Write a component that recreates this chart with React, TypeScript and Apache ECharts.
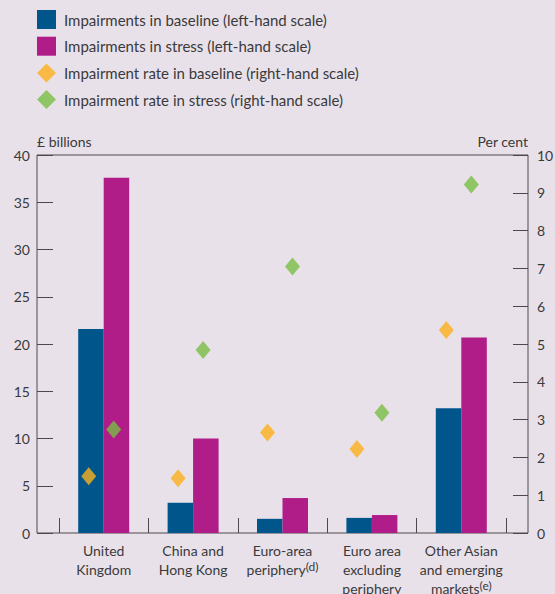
import React, { useEffect, useRef } from "react";
import * as echarts from "echarts";

const categories = [
  "United\nKingdom",
  "China and\nHong Kong",
  "Euro-area\nperiphery{sup|(d)}",
  "Euro area\nexcluding\nperiphery",
  "Other Asian\nand emerging\nmarkets{sup|(e)}",
];
const impairmentsBaseline = [21.6, 3.2, 1.5, 1.6, 13.2];
const impairmentsStress = [37.6, 10.0, 3.7, 1.9, 20.7];
const rateBaseline = [1.5, 1.45, 2.66, 2.22, 5.37];
const rateStress = [2.74, 4.84, 7.05, 3.18, 9.22];

const seriesNames = [
  "Impairments in baseline (left-hand scale)",
  "Impairments in stress (left-hand scale)",
  "Impairment rate in baseline (right-hand scale)",
  "Impairment rate in stress (right-hand scale)",
];

const FONT = "Lato";
const TEXT = "#3a3a3a";
const AXIS = "#4a4a4a";

export default function App() {
  const ref = useRef<HTMLDivElement>(null);
  useEffect(() => {
    if (!ref.current) return;
    const chart = echarts.init(ref.current, null, { renderer: "svg" });
    chart.setOption({
      animation: false,
      backgroundColor: "#E9E1EA",
      textStyle: { fontFamily: FONT, color: TEXT },
      legend: {
        orient: "vertical",
        left: 37,
        top: 10,
        padding: 0,
        itemWidth: 19,
        itemHeight: 19,
        itemGap: 7.7,
        textStyle: { fontFamily: FONT, fontSize: 15, color: TEXT, padding: [0, 0, 0, 3] },
        data: [
          { name: seriesNames[0], icon: "rect" },
          { name: seriesNames[1], icon: "rect" },
          { name: seriesNames[2], icon: "diamond" },
          { name: seriesNames[3], icon: "diamond" },
        ],
      },
      grid: [
        {
          left: 37,
          right: 27,
          top: 155,
          bottom: 61,
          show: true,
          borderColor: AXIS,
          borderWidth: 1,
          backgroundColor: "transparent",
          containLabel: false,
          outerBoundsMode: "none",
        },
        { left: 59, right: 49, top: 155, bottom: 61, containLabel: false, outerBoundsMode: "none" },
      ],
      xAxis: [
        { gridIndex: 0, type: "value", min: 0, max: 1, show: false },
        {
          gridIndex: 1,
          type: "category",
          data: categories,
          axisLine: { show: false },
          axisTick: { show: true, inside: true, length: 15, lineStyle: { color: AXIS } },
          axisLabel: {
            interval: 0,
            margin: 8,
            fontFamily: FONT,
            fontSize: 14,
            lineHeight: 19,
            color: TEXT,
            rich: {
              sup: { fontSize: 12, fontFamily: FONT, color: TEXT, verticalAlign: "top", padding: [0, 0, 8, 0] },
            },
          },
        },
      ],
      yAxis: [
        {
          gridIndex: 0,
          type: "value",
          position: "left",
          min: 0,
          max: 40,
          interval: 5,
          name: "£ billions",
          nameLocation: "end",
          nameGap: 7,
          nameTextStyle: { align: "left", fontFamily: FONT, fontSize: 14, color: TEXT },
          axisLine: { show: false },
          axisTick: { show: true, inside: true, length: 16, lineStyle: { color: AXIS } },
          axisLabel: { margin: 7, fontFamily: FONT, fontSize: 14, color: TEXT },
          splitLine: { show: false },
        },
        {
          gridIndex: 0,
          type: "value",
          position: "right",
          min: 0,
          max: 10,
          interval: 1,
          name: "Per cent",
          nameLocation: "end",
          nameGap: 7,
          nameTextStyle: { align: "right", fontFamily: FONT, fontSize: 14, color: TEXT },
          axisLine: { show: false },
          axisTick: { show: true, inside: true, length: 15, lineStyle: { color: AXIS } },
          axisLabel: { margin: 9, fontFamily: FONT, fontSize: 14, color: TEXT },
          splitLine: { show: false },
        },
        { gridIndex: 1, type: "value", min: 0, max: 40, show: false },
        { gridIndex: 1, type: "value", min: 0, max: 10, show: false },
      ],
      series: [
        {
          name: seriesNames[0],
          type: "bar",
          xAxisIndex: 1,
          yAxisIndex: 2,
          data: impairmentsBaseline,
          barWidth: 25.5,
          barGap: "0%",
          itemStyle: { color: "#00558B" },
        },
        {
          name: seriesNames[1],
          type: "bar",
          xAxisIndex: 1,
          yAxisIndex: 2,
          data: impairmentsStress,
          barWidth: 25.5,
          barGap: "0%",
          itemStyle: { color: "#B01C88" },
        },
        {
          name: seriesNames[2],
          type: "scatter",
          xAxisIndex: 1,
          yAxisIndex: 3,
          data: rateBaseline,
          symbol: "diamond",
          symbolSize: [15, 18],
          symbolOffset: [-15, 0],
          itemStyle: { color: "#FBB01C" },
          z: 5,
        },
        {
          name: seriesNames[3],
          type: "scatter",
          xAxisIndex: 1,
          yAxisIndex: 3,
          data: rateStress,
          symbol: "diamond",
          symbolSize: [15, 18],
          symbolOffset: [10, 0],
          itemStyle: { color: "#78BE43" },
          z: 5,
        },
      ],
    });
    return () => chart.dispose();
  }, []);
  return (
    <div
      ref={ref}
      style={{ position: "absolute", left: 0, top: 0, width: 555, height: 594 }}
    />
  );
}
